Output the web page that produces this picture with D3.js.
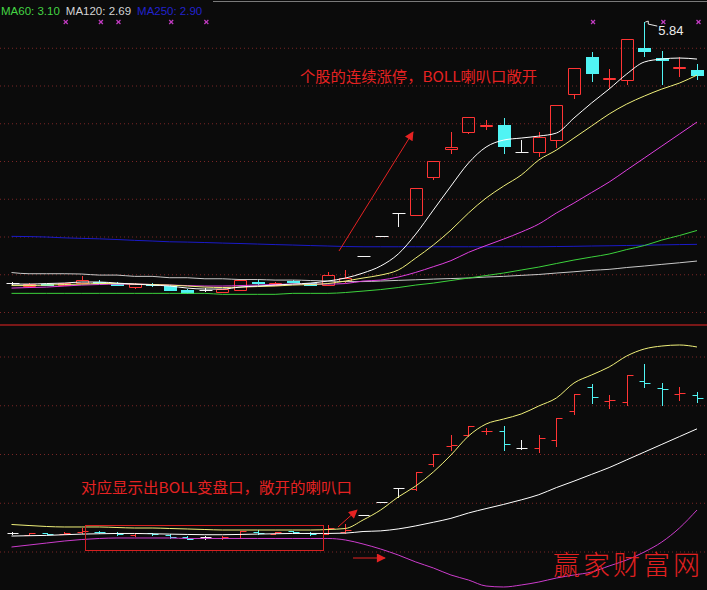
<!DOCTYPE html>
<html>
<head>
<meta charset="utf-8">
<script src="https://cdn.jsdelivr.net/npm/d3@7/dist/d3.min.js"></script>
<style>
html,body{margin:0;padding:0;background:#0b0b0b;}
svg{display:block;}
</style>
</head>
<body>
<svg id="chart" width="707" height="590"></svg>
<script>
// ---------------- DATA ----------------
const opens  = [2.38,2.34,2.37,2.36,2.39,2.40,2.37,2.335,2.37,2.345, 2.29,2.29,2.27,2.285,2.40,2.355,2.415,2.38,2.36,2.41,
                2.74,3.01,3.31,3.28,3.79,4.16,4.38,4.47,4.48,4.12, 4.12,4.28,4.89,5.38,5.09,5.07,5.50,5.36,5.24,5.21];
const highs  = [2.40,2.38,2.38,2.39,2.48,2.42,2.40,2.38,2.38,2.36, 2.31,2.32,2.31,2.43,2.44,2.40,2.43,2.39,2.535,2.555,
                2.74,3.01,3.31,3.64,4.00,4.38,4.58,4.54,4.57,4.28, 4.38,4.74,5.23,5.44,5.22,5.62,5.84,5.46,5.38,5.28];
const lows   = [2.36,2.33,2.35,2.35,2.38,2.38,2.34,2.31,2.33,2.28, 2.25,2.26,2.25,2.28,2.36,2.35,2.385,2.345,2.355,2.385,
                2.74,3.01,3.125,3.27,3.75,4.09,4.36,4.41,4.09,4.10, 4.05,4.17,4.82,5.05,4.95,5.01,5.38,5.01,5.11,5.07];
const closes = [2.38,2.37,2.36,2.38,2.43,2.39,2.36,2.37,2.355,2.29, 2.255,2.29,2.30,2.42,2.38,2.39,2.40,2.355,2.49,2.45,
                2.74,3.01,3.31,3.64,4.00,4.18,4.58,4.48,4.20,4.12, 4.32,4.74,5.23,5.17,5.10,5.62,5.46,5.34,5.25,5.14];

const ma5   = [2.370,2.370,2.377,2.383,2.397,2.397,2.383,2.370,2.357,2.344, 2.317,2.304,2.304,2.330,2.344,2.357,2.370,2.383,2.410,2.450,
               2.516,2.609,2.768,3.032,3.350,3.668,3.973,4.185,4.277,4.304, 4.330,4.370,4.569,4.768,4.953,5.152,5.311,5.350,5.364,5.350];
const ma10  = [2.350,2.350,2.357,2.364,2.370,2.377,2.377,2.370,2.364,2.357, 2.344,2.330,2.324,2.330,2.337,2.344,2.357,2.364,2.377,2.410,
               2.450,2.489,2.556,2.715,2.887,3.085,3.311,3.509,3.668,3.814, 4.013,4.145,4.304,4.463,4.622,4.754,4.860,4.953,5.032,5.138];
const ma20  = [2.317,2.324,2.330,2.344,2.357,2.364,2.370,2.370,2.364,2.357, 2.350,2.344,2.344,2.350,2.357,2.364,2.370,2.370,2.370,2.377,
               2.410,2.423,2.463,2.525,2.600,2.680,2.790,2.880,2.966,3.059, 3.165,3.311,3.443,3.582,3.721,3.880,4.039,4.198,4.357,4.516];
const ma60  = [2.247,2.247,2.247,2.247,2.247,2.247,2.247,2.247,2.247,2.247, 2.247,2.247,2.234,2.234,2.234,2.234,2.247,2.247,2.247,2.258,
               2.277,2.297,2.324,2.357,2.383,2.417,2.450,2.483,2.516,2.556, 2.595,2.642,2.688,2.728,2.768,2.827,2.880,2.953,3.013,3.080];
const ma120 = [2.523,2.507,2.507,2.507,2.503,2.489,2.489,2.472,2.472,2.454, 2.454,2.440,2.440,2.430,2.430,2.423,2.423,2.417,2.410,2.403,
               2.403,2.410,2.419,2.427,2.436,2.443,2.450,2.463,2.472,2.485, 2.497,2.516,2.533,2.552,2.565,2.589,2.609,2.631,2.652,2.675];
const ma250 = [3.002,2.999,2.993,2.982,2.975,2.969,2.960,2.949,2.940,2.930, 2.926,2.920,2.913,2.907,2.900,2.893,2.887,2.880,2.874,2.867,
               2.864,2.864,2.864,2.864,2.864,2.864,2.864,2.864,2.864,2.864, 2.864,2.867,2.870,2.874,2.877,2.881,2.885,2.889,2.893,2.896];

const bollUpper = [2.554,2.533,2.513,2.503,2.503,2.503,2.492,2.482,2.482,2.472, 2.462,2.451,2.441,2.441,2.441,2.441,2.441,2.441,2.451,2.472,
                   2.646,2.851,3.118,3.344,3.631,3.979,4.369,4.615,4.718,4.821, 4.985,5.149,5.456,5.621,5.785,6.010,6.154,6.215,6.236,6.195];
const bollMid   = ma20;
const bollLower = [2.092,2.133,2.174,2.215,2.246,2.267,2.277,2.277,2.277,2.277, 2.267,2.267,2.267,2.267,2.267,2.267,2.267,2.267,2.267,2.236,
                   2.154,2.051,1.928,1.785,1.662,1.518,1.415,1.292,1.272,1.313, 1.374,1.456,1.518,1.579,1.703,1.826,1.990,2.195,2.482,2.851];

const legendLabels = ["MA60: 3.10", "MA120: 2.69", "MA250: 2.90"];
const markedBars   = [3,5,6,9,11,33,37,39];
const upperGrid    = [2.0,2.5,3.0,3.5,4.0,4.5,5.0,5.5];
const lowerGrid    = [2,3,4,5,6];
const noteUpper    = "个股的连续涨停，BOLL喇叭口敞开";
const noteLower    = "对应显示出BOLL变盘口，敞开的喇叭口";
const watermark    = "赢家财富网";

// ---------------- SETUP ----------------
const W = 707, H = 590;
const BG = "#0b0b0b", RED = "#ff3434", CYAN = "#50f4f4", WHITE = "#f4f4f4";
const svg = d3.select("#chart");
svg.append("rect").attr("width", W).attr("height", H).attr("fill", BG);

const n = closes.length;
const x  = d3.scaleLinear().domain([0, n - 1]).range([11.5, 697]);
const yU = d3.scaleLinear().domain([2.0, 5.5]).range([312, 47.75]);
const yL = d3.scaleLinear().domain([2, 6]).range([551.5, 356.5]);

const defs = svg.append("defs");
defs.append("clipPath").attr("id", "clipU").append("rect").attr("x", 0).attr("y", 0).attr("width", W).attr("height", 324);
defs.append("clipPath").attr("id", "clipL").append("rect").attr("x", 0).attr("y", 326).attr("width", W).attr("height", 264);

// grids via axes
function grid(scale, ticks) {
  const g = svg.append("g").call(d3.axisLeft(scale).tickValues(ticks).tickSize(-W).tickFormat(""));
  g.select(".domain").remove();
  g.selectAll(".tick line").attr("stroke", "#7a2626").attr("stroke-dasharray", "1,3");
  return g;
}
grid(yU, upperGrid);
grid(yL, lowerGrid);

// separator + top border
svg.append("line").attr("x1", 0).attr("x2", W).attr("y1", 325).attr("y2", 325)
  .attr("stroke", "#a01c1c").attr("stroke-width", 1.5);
svg.append("line").attr("x1", 213).attr("x2", W).attr("y1", 1.5).attr("y2", 1.5)
  .attr("stroke", "#7a7a7a").attr("stroke-width", 1);

const data = d3.range(n).map(i => ({ i, o: opens[i], h: highs[i], l: lows[i], c: closes[i] }));
const colorOf = d => d.c > d.o ? RED : (d.c < d.o ? CYAN : WHITE);
const px = v => Math.round(v) + 0.5;

// ---------------- UPPER PANEL: candles ----------------
const gU = svg.append("g").attr("clip-path", "url(#clipU)");
data.forEach(d => {
  const cx = px(x(d.i)), col = colorOf(d);
  const yo = yU(d.o), yc = yU(d.c);
  const yh = Math.round(yU(d.h)), yl = Math.round(yU(d.l));
  if (d.c === d.o) {
    gU.append("path").attr("d", `M${cx},${yh}V${yl}M${cx - 6},${px(yc)}H${cx + 7}`)
      .attr("fill", "none").attr("stroke", col).attr("stroke-width", 1);
  } else if (d.c > d.o) {
    const t = px(yc), b = Math.max(t + 1, px(yo));
    gU.append("path")
      .attr("d", `M${cx},${yh}V${t}M${cx},${b}V${yl}M${cx - 6},${t}H${cx + 6}V${b}H${cx - 6}Z`)
      .attr("fill", "none").attr("stroke", col).attr("stroke-width", 1);
  } else {
    const t = Math.round(yo), b = Math.max(t + 2, Math.round(yc) + 1);
    gU.append("path").attr("d", `M${cx},${yh}V${yl}`).attr("stroke", col).attr("stroke-width", 1);
    gU.append("rect").attr("x", cx - 6.5).attr("y", t).attr("width", 13).attr("height", b - t).attr("fill", col);
  }
});

// MA lines
const maSeries = [
  { v: ma250, c: "#1a1ac8" }, { v: ma120, c: "#c8c8c8" }, { v: ma60, c: "#3cd23c" },
  { v: ma20, c: "#e040e0" }, { v: ma10, c: "#f0f07a" }, { v: ma5, c: "#ffffff" }
];
const lineU = d3.line().x((v, i) => x(i)).y(v => yU(v)).curve(d3.curveMonotoneX);
const gUL = svg.append("g").attr("clip-path", "url(#clipU)");
maSeries.forEach(s => gUL.append("path").attr("d", lineU(s.v)).attr("fill", "none").attr("stroke", s.c).attr("stroke-width", 1));

// legend
const legendColors = ["#44d444", "#d4d4d4", "#2222cc"];
let lx = 1;
legendLabels.forEach((t, k) => {
  const tx = svg.append("text").attr("x", lx).attr("y", 15).text(t)
    .attr("fill", legendColors[k]).attr("font-family", "'Liberation Sans', Arial, sans-serif").attr("font-size", 11.5);
  lx += tx.node().getComputedTextLength() + 6;
});

// markers (×)
const gM = svg.append("g").attr("stroke", "#c23cc2").attr("stroke-width", 1.2);
markedBars.forEach(i => {
  const cx = x(i) + 1.5, cy = 22;
  gM.append("line").attr("x1", cx - 2).attr("x2", cx + 2).attr("y1", cy - 2).attr("y2", cy + 2);
  gM.append("line").attr("x1", cx - 2).attr("x2", cx + 2).attr("y1", cy + 2).attr("y2", cy - 2);
});

// max label
const iMax = d3.maxIndex(highs);
const mx = x(iMax), my = yU(highs[iMax]);
svg.append("polyline").attr("points", `${mx+1},${my} ${mx+4},${my-1} ${mx+4},${my+2} ${mx+13},${my+4}`)
  .attr("fill", "none").attr("stroke", "#e8e8e8");
svg.append("text").attr("x", mx + 14).attr("y", my + 12.5).text(d3.format(".2f")(highs[iMax]))
  .attr("fill", "#ececec").attr("font-family", "'Liberation Sans', Arial, sans-serif").attr("font-size", 13);

// ---------------- LOWER PANEL: BOLL ----------------
const gL = svg.append("g").attr("clip-path", "url(#clipL)");
data.forEach(d => {
  const cx = px(x(d.i)), col = colorOf(d);
  gL.append("line").attr("x1", cx).attr("x2", cx).attr("y1", Math.round(yL(d.h))).attr("y2", Math.round(yL(d.l)) + 1).attr("stroke", col);
  gL.append("line").attr("x1", cx - 5).attr("x2", cx).attr("y1", px(yL(d.o))).attr("y2", px(yL(d.o))).attr("stroke", col);
  gL.append("line").attr("x1", cx).attr("x2", cx + 6).attr("y1", px(yL(d.c))).attr("y2", px(yL(d.c))).attr("stroke", col);
});
const lineL = d3.line().x((v, i) => x(i)).y(v => yL(v)).curve(d3.curveMonotoneX);
const gLL = svg.append("g").attr("clip-path", "url(#clipL)");
[{ v: bollUpper, c: "#f0f07a" }, { v: bollMid, c: "#ffffff" }, { v: bollLower, c: "#cc3ccc" }]
  .forEach(s => gLL.append("path").attr("d", lineL(s.v)).attr("fill", "none").attr("stroke", s.c).attr("stroke-width", 1));

// ---------------- ANNOTATIONS ----------------
const NOTE = "#e52222";
defs.append("marker").attr("id", "ah").attr("viewBox", "0 0 10 10").attr("refX", 9).attr("refY", 5)
  .attr("markerWidth", 10).attr("markerHeight", 9).attr("markerUnits", "userSpaceOnUse").attr("orient", "auto")
  .append("path").attr("d", "M0,0 L10,5 L0,10 Z").attr("fill", NOTE);
function arrow(x1, y1, x2, y2) {
  svg.append("line").attr("x1", x1).attr("y1", y1).attr("x2", x2).attr("y2", y2)
    .attr("stroke", NOTE).attr("stroke-width", 1).attr("marker-end", "url(#ah)");
}
arrow(339, 251, 413, 132);
arrow(338, 527, 357, 510);
arrow(353, 558, 385, 558);

svg.append("rect").attr("x", 85.5).attr("y", 525.5).attr("width", 238).attr("height", 25)
  .attr("fill", "none").attr("stroke", "#d42020").attr("stroke-width", 1);

const cjk = "'Noto Sans CJK SC', 'Noto Sans', sans-serif";
svg.append("text").attr("x", 300).attr("y", 82).text(noteUpper)
  .attr("fill", NOTE).attr("font-family", cjk).attr("font-size", 15)
  .attr("textLength", 237).attr("lengthAdjust", "spacingAndGlyphs");
svg.append("text").attr("x", 81).attr("y", 493).text(noteLower)
  .attr("fill", NOTE).attr("font-family", cjk).attr("font-size", 15)
  .attr("textLength", 271).attr("lengthAdjust", "spacingAndGlyphs");
svg.append("text").attr("x", 553).attr("y", 575).text(watermark)
  .attr("fill", "#e02020").attr("font-family", cjk).attr("font-size", 27).attr("font-weight", 300)
  .attr("textLength", 147).attr("lengthAdjust", "spacing");
</script>
</body>
</html>
